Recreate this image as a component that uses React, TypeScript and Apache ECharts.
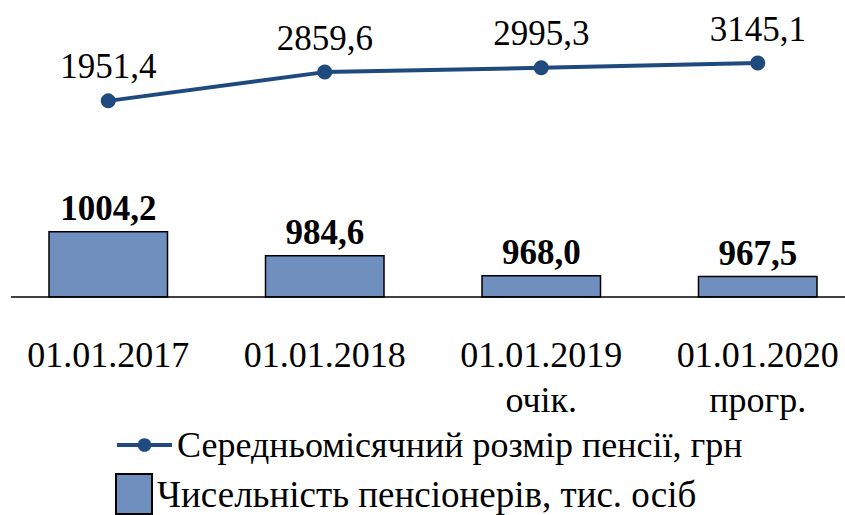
import React, { useEffect, useRef } from "react";
import * as echarts from "echarts";

const categories = ["01.01.2017", "01.01.2018", "01.01.2019\nочік.", "01.01.2020\nпрогр."];
const pensionSize = [1951.4, 2859.6, 2995.3, 3145.1];
const pensioners = [1004.2, 984.6, 968.0, 967.5];
const lineName = "Середньомісячний розмір пенсії, грн";
const barName = "Чисельність пенсіонерів, тис. осіб";

const FONT = "Liberation Serif";
const LINE_COLOR = "#1f4a7e";
const fmt = (v: number) => v.toFixed(1).replace(".", ",");

export default function App() {
  const ref = useRef<HTMLDivElement>(null);
  useEffect(() => {
    if (!ref.current) return;
    const chart = echarts.init(ref.current, null, { renderer: "svg" });
    chart.setOption({
      animation: false,
      backgroundColor: "#ffffff",
      textStyle: { fontFamily: FONT },
      grid: [
        { left: 0, right: 0, top: 36, height: 95 },
        { left: 0, right: 0, top: 151, height: 146 },
      ],
      xAxis: [
        { type: "category", gridIndex: 0, data: categories, show: false },
        {
          type: "category",
          gridIndex: 1,
          data: categories,
          axisLine: { show: false },
          axisTick: { show: false },
          axisLabel: {
            interval: 0,
            margin: 35,
            fontFamily: FONT,
            fontSize: 36,
            lineHeight: 45,
            color: "#000000",
          },
        },
      ],
      yAxis: [
        { type: "value", gridIndex: 0, min: 1000, max: 4000, show: false },
        { type: "value", gridIndex: 1, min: 950, max: 1070, show: false },
      ],
      legend: [
        {
          data: [lineName],
          orient: "vertical",
          left: 115,
          top: 425,
          padding: 0,
          itemWidth: 55,
          itemHeight: 17,
          lineStyle: { width: 4, color: LINE_COLOR },
          textStyle: { fontFamily: FONT, fontSize: 36, lineHeight: 40, color: "#000000" },
        },
        {
          data: [{ name: barName, icon: "rect" }],
          orient: "vertical",
          left: 115,
          top: 473,
          padding: 0,
          itemWidth: 36,
          itemHeight: 40,
          textStyle: { fontFamily: FONT, fontSize: 37, lineHeight: 38, color: "#000000" },
        },
      ],
      graphic: [
        {
          type: "line",
          shape: { x1: 11, y1: 297, x2: 845, y2: 297 },
          style: { stroke: "#000000", lineWidth: 1.5 },
          z: 10,
        },
      ],
      series: [
        {
          name: barName,
          type: "bar",
          xAxisIndex: 1,
          yAxisIndex: 1,
          data: pensioners,
          barWidth: 120,
          itemStyle: { color: "#6f8fbf", borderColor: "#000000", borderWidth: 1.5 },
          label: {
            show: true,
            position: "top",
            distance: 5,
            fontFamily: FONT,
            fontSize: 35,
            lineHeight: 35,
            fontWeight: "bold",
            color: "#000000",
            formatter: (p: any) => fmt(p.value),
          },
        },
        {
          name: lineName,
          type: "line",
          xAxisIndex: 0,
          yAxisIndex: 0,
          data: pensionSize,
          symbol: "circle",
          symbolSize: 15,
          lineStyle: { color: LINE_COLOR, width: 4 },
          itemStyle: { color: LINE_COLOR },
          label: {
            show: true,
            position: "top",
            distance: 9,
            fontFamily: FONT,
            fontSize: 35,
            lineHeight: 35,
            color: "#000000",
            formatter: (p: any) => fmt(p.value),
          },
        },
      ],
    });
    return () => chart.dispose();
  }, []);
  return (
    <div style={{ position: "fixed", left: 0, top: 0, width: 845, height: 515, overflow: "hidden" }}>
      <div ref={ref} style={{ position: "absolute", left: 0, top: 0, width: 866, height: 515 }} />
    </div>
  );
}
